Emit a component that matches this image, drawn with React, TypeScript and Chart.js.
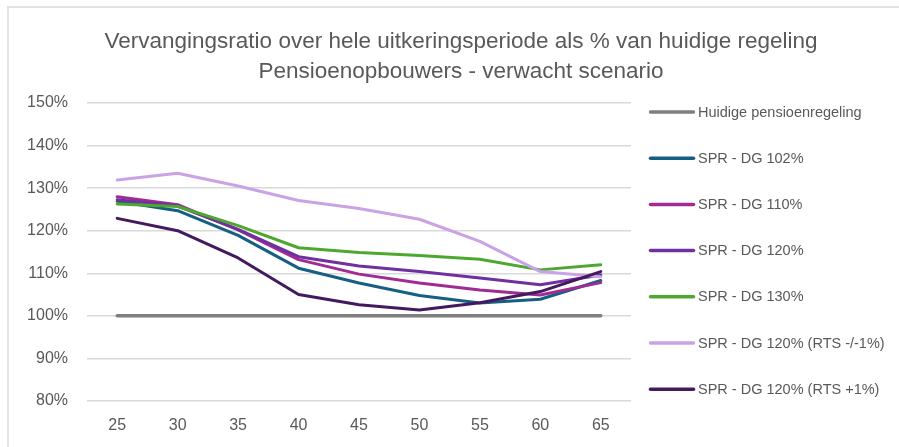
import React, { useEffect, useRef } from 'react';
import { Chart, registerables } from 'chart.js';

Chart.register(...registerables);

const ages = ['25', '30', '35', '40', '45', '50', '55', '60', '65'];
const yMin = 80;
const yMax = 150;
const yStep = 10;

const huidige = [100, 100, 100, 100, 100, 100, 100, 100, 100];
const dg102 = [126.9, 124.7, 118.9, 111.2, 107.7, 104.8, 103.0, 103.9, 108.3];
const dg110 = [128.0, 126.1, 120.2, 113.2, 109.8, 107.7, 106.1, 104.9, 107.8];
const dg120 = [127.3, 125.8, 120.3, 113.9, 111.7, 110.4, 108.9, 107.3, 109.6];
const dg130 = [126.3, 125.7, 121.2, 116.0, 114.9, 114.2, 113.3, 110.8, 112.0];
const dg120RtsMin = [131.9, 133.5, 130.5, 127.1, 125.2, 122.7, 117.5, 110.4, 109.2];
const dg120RtsPlus = [122.9, 120.0, 113.6, 105.0, 102.6, 101.4, 103.1, 105.7, 110.4];

const seriesNames = [
  'Huidige pensioenregeling',
  'SPR - DG 102%',
  'SPR - DG 110%',
  'SPR - DG 120%',
  'SPR - DG 130%',
  'SPR - DG 120% (RTS -/-1%)',
  'SPR - DG 120% (RTS +1%)',
];
const seriesValues = [huidige, dg102, dg110, dg120, dg130, dg120RtsMin, dg120RtsPlus];
const seriesColors = ['#7f7f7f', '#156082', '#a02b93', '#7030a0', '#4ea72e', '#c9a3e6', '#44195e'];
const seriesWidths = [3.5, 3, 3, 3, 3, 3, 3];

const titleLines = [
  'Vervangingsratio over hele uitkeringsperiode als % van huidige regeling',
  'Pensioenopbouwers - verwacht scenario',
];

const FONT = "'Liberation Sans', Arial, sans-serif";
const TEXT = '#595959';

// Title and right-hand legend, drawn around the chart area
const titleLegendPlugin = {
  id: 'titleLegend',
  afterDraw(chart: any) {
    const ctx = chart.ctx;
    const area = chart.chartArea;
    ctx.save();
    // title
    ctx.fillStyle = TEXT;
    ctx.font = `22.5px ${FONT}`;
    ctx.textAlign = 'center';
    ctx.textBaseline = 'middle';
    titleLines.forEach((line, i) => {
      ctx.fillText(line, 461, 42 + i * 30);
    });
    // legend
    ctx.font = `14.5px ${FONT}`;
    ctx.textAlign = 'left';
    chart.data.datasets.forEach((ds: any, i: number) => {
      const y = area.top + 9 + i * 46.2;
      const x0 = area.right + 19.5;
      ctx.strokeStyle = ds.borderColor;
      ctx.lineWidth = 3.5;
      ctx.lineCap = 'round';
      ctx.beginPath();
      ctx.moveTo(x0, y);
      ctx.lineTo(x0 + 43, y);
      ctx.stroke();
      ctx.fillStyle = TEXT;
      ctx.fillText(ds.label, area.right + 67, y + 0.5);
    });
    ctx.restore();
  },
};

export default function App() {
  const ref = useRef<HTMLCanvasElement | null>(null);

  useEffect(() => {
    if (!ref.current) return;
    const n = seriesNames.length;
    const chart = new Chart(ref.current, {
      type: 'line',
      data: {
        labels: ages,
        datasets: seriesNames.map((name, i) => ({
          label: name,
          data: seriesValues[i],
          borderColor: seriesColors[i],
          backgroundColor: seriesColors[i],
          borderWidth: seriesWidths[i],
          pointRadius: 0,
          pointHoverRadius: 0,
          tension: 0,
          fill: false,
          borderCapStyle: 'round',
          borderJoinStyle: 'round',
          order: n - i,
        })),
      },
      options: {
        responsive: false,
        animation: false,
        layout: { padding: { left: 27, right: 268, top: 103, bottom: 12 } },
        plugins: {
          title: { display: false },
          legend: { display: false },
          tooltip: { enabled: false },
        },
        scales: {
          x: {
            type: 'category',
            offset: true,
            grid: { display: false, drawTicks: false },
            border: { display: false },
            ticks: { color: TEXT, font: { family: FONT, size: 16 }, padding: 15, maxRotation: 0 },
            afterFit: (scale: any) => {
              scale.height = 34;
            },
          },
          y: {
            type: 'linear',
            min: yMin,
            max: yMax,
            afterFit: (scale: any) => {
              scale.width = 60;
            },
            grid: { color: '#d9d9d9', lineWidth: 1.5, drawTicks: false },
            border: { display: false },
            ticks: {
              stepSize: yStep,
              color: TEXT,
              font: { family: FONT, size: 16 },
              padding: 19,
              callback: (v: any) => `${v}%`,
            },
          },
        },
      },
      plugins: [titleLegendPlugin],
    });
    return () => chart.destroy();
  }, []);

  return (
    <div style={{ position: 'absolute', left: 0, top: 0, width: 899, height: 447, overflow: 'hidden', background: '#fff' }}>
      <div
        style={{
          position: 'absolute',
          left: 7,
          top: 6,
          right: -10,
          bottom: -10,
          borderLeft: '2px solid #e3e3e3',
          borderTop: '2px solid #e3e3e3',
        }}
      />
      <canvas ref={ref} width={899} height={447} style={{ position: 'absolute', left: 0, top: 0, display: 'block' }} />
    </div>
  );
}
